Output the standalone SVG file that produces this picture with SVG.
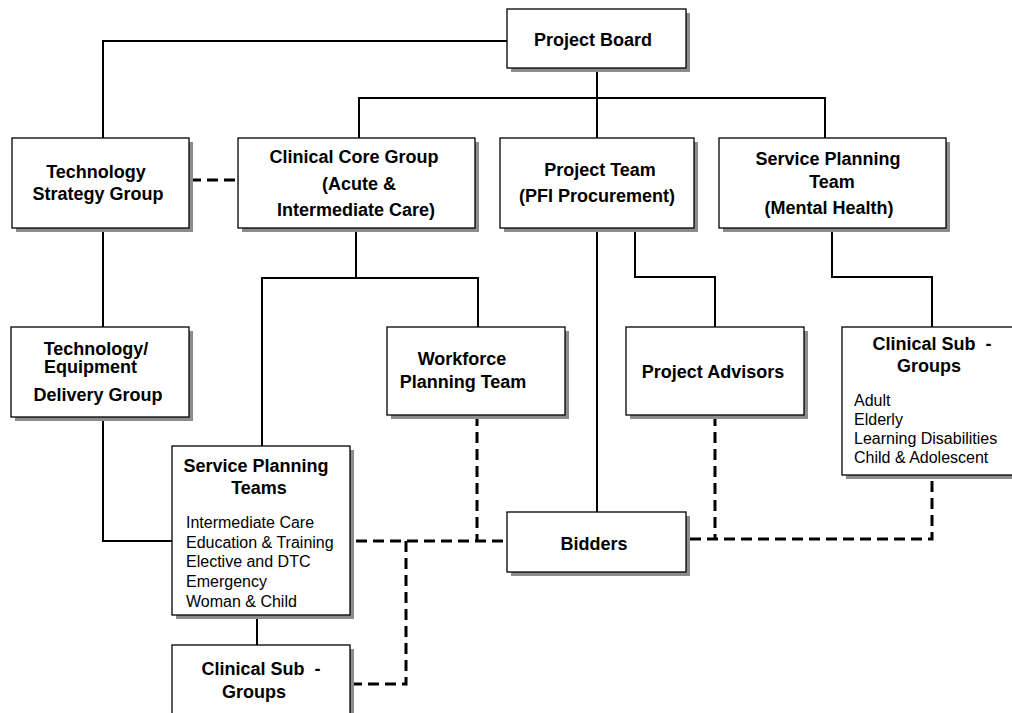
<svg xmlns="http://www.w3.org/2000/svg" width="1012" height="713" viewBox="0 0 1012 713">
<style>
.sh{fill:#8c8c8c}
.bx{fill:#fff;stroke:#000;stroke-width:1.3}
.t{font-family:"Liberation Sans",Arial,sans-serif;font-size:18px;font-weight:bold;fill:#000;text-anchor:middle}
.l{font-family:"Liberation Sans",Arial,sans-serif;font-size:16px;fill:#000}
.p{white-space:pre}
.c{fill:none;stroke:#000;stroke-width:2}
.d{fill:none;stroke:#000;stroke-width:3;stroke-dasharray:11 6}
</style>
<rect width="1012" height="713" fill="#fff"/>
<g id="connectors">
<path class="c" d="M507,41 H103 V138"/>
<path class="c" d="M597,68 V138 M359,138 V98 H825 V138"/>
<path class="c" d="M103,228 V327"/>
<path class="c" d="M103,417 V541 H172"/>
<path class="c" d="M356,228 V278 M262,446 V278 H478 V327"/>
<path class="c" d="M597,228 V512"/>
<path class="c" d="M635,228 V277 H715 V327"/>
<path class="c" d="M832,228 V277 H932 V327"/>
<path class="c" d="M257,615 V645"/>
<path class="d" d="M190,180 H237"/>
<path class="d" d="M477,415 V541"/>
<path class="d" d="M356,541 H507"/>
<path class="d" d="M406,541 V684 H354"/>
<path class="d" d="M715,415 V539"/>
<path class="d" d="M690,539 H932 V475"/>
</g>
<g id="project-board">
<rect class="sh" x="511" y="13" width="179" height="59"/>
<rect class="bx" x="507" y="9" width="179" height="59"/>
<text class="t" x="593" y="46">Project Board</text>
</g>
<g id="technology-strategy-group">
<rect class="sh" x="16" y="142" width="177" height="90"/>
<rect class="bx" x="12" y="138" width="177" height="90"/>
<text class="t" x="96" y="178">Technology</text>
<text class="t" x="98" y="200">Strategy Group</text>
</g>
<g id="clinical-core-group">
<rect class="sh" x="242" y="142" width="237" height="90"/>
<rect class="bx" x="238" y="138" width="237" height="90"/>
<text class="t" x="354" y="163">Clinical Core Group</text>
<text class="t" x="359" y="190">(Acute &amp;</text>
<text class="t" x="356" y="216">Intermediate Care)</text>
</g>
<g id="project-team">
<rect class="sh" x="504" y="142" width="194" height="90"/>
<rect class="bx" x="500" y="138" width="194" height="90"/>
<text class="t" x="600" y="176">Project Team</text>
<text class="t" x="597" y="202">(PFI Procurement)</text>
</g>
<g id="service-planning-team-mh">
<rect class="sh" x="723" y="142" width="227" height="90"/>
<rect class="bx" x="719" y="138" width="227" height="90"/>
<text class="t" x="828" y="165">Service Planning</text>
<text class="t" x="832" y="188">Team</text>
<text class="t" x="829" y="214">(Mental Health)</text>
</g>
<g id="technology-equipment-delivery-group">
<rect class="sh" x="15" y="331" width="178" height="90"/>
<rect class="bx" x="11" y="327" width="178" height="90"/>
<text class="t" x="96" y="355">Technology/</text>
<text class="t" x="44" y="373" style="text-anchor:start">Equipment</text>
<text class="t" x="98" y="401">Delivery Group</text>
</g>
<g id="workforce-planning-team">
<rect class="sh" x="391" y="331" width="178" height="88"/>
<rect class="bx" x="387" y="327" width="178" height="88"/>
<text class="t" x="462" y="365">Workforce</text>
<text class="t" x="463" y="388">Planning Team</text>
</g>
<g id="project-advisors">
<rect class="sh" x="630" y="331" width="178" height="88"/>
<rect class="bx" x="626" y="327" width="178" height="88"/>
<text class="t" x="713" y="378">Project Advisors</text>
</g>
<g id="clinical-sub-groups-mh">
<rect class="sh" x="846" y="331" width="180" height="148"/>
<rect class="bx" x="842" y="327" width="180" height="148"/>
<text class="t p" x="932" y="350">Clinical Sub  -</text>
<text class="t" x="929" y="372">Groups</text>
<text class="l" x="854" y="406">Adult</text>
<text class="l" x="854" y="425">Elderly</text>
<text class="l" x="854" y="444">Learning Disabilities</text>
<text class="l" x="854" y="463">Child &amp; Adolescent</text>
</g>
<g id="service-planning-teams">
<rect class="sh" x="176" y="450" width="178" height="169"/>
<rect class="bx" x="172" y="446" width="178" height="169"/>
<text class="t" x="256" y="472">Service Planning</text>
<text class="t" x="259" y="494">Teams</text>
<text class="l" x="186" y="528">Intermediate Care</text>
<text class="l" x="186" y="548">Education &amp; Training</text>
<text class="l" x="186" y="567">Elective and DTC</text>
<text class="l" x="186" y="587">Emergency</text>
<text class="l" x="186" y="607">Woman &amp; Child</text>
</g>
<g id="bidders">
<rect class="sh" x="511" y="516" width="179" height="60"/>
<rect class="bx" x="507" y="512" width="179" height="60"/>
<text class="t" x="594" y="550">Bidders</text>
</g>
<g id="clinical-sub-groups">
<rect class="sh" x="176" y="649" width="178" height="80"/>
<rect class="bx" x="172" y="645" width="178" height="80"/>
<text class="t p" x="261" y="675">Clinical Sub  -</text>
<text class="t" x="254" y="698">Groups</text>
</g>
</svg>
